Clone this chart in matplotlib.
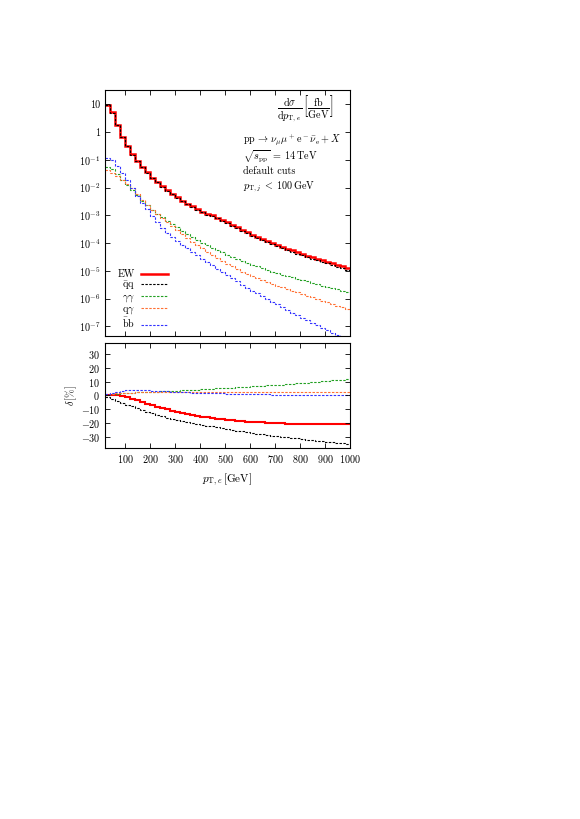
import numpy as np
import matplotlib
matplotlib.use("Agg")
import matplotlib.pyplot as plt
from matplotlib.ticker import FixedLocator, FuncFormatter, MultipleLocator

plt.rcParams['font.family'] = 'serif'
plt.rcParams['font.serif'] = ['cmr10']
plt.rcParams['mathtext.fontset'] = 'cm'
plt.rcParams['axes.formatter.use_mathtext'] = True
plt.rcParams['font.size'] = 7.3
plt.rcParams['axes.unicode_minus'] = True

# 20 GeV bins from 20 to 1000 GeV
edges = np.arange(20, 1001, 20)

# top panel: dsigma/dpT [fb/GeV]
ew = [9.3, 5.1, 1.78, 0.68, 0.32, 0.158, 0.091, 0.055, 0.0355, 0.0229,
      0.0158, 0.0112, 8.1e-3, 6.0e-3, 4.5e-3, 3.4e-3, 2.63e-3, 2.09e-3, 1.66e-3, 1.35e-3,
      1.12e-3, 1.0e-3, 8.3e-4, 6.9e-4, 5.6e-4, 4.6e-4, 3.7e-4, 3.0e-4, 2.5e-4, 2.04e-4,
      1.70e-4, 1.41e-4, 1.20e-4, 1.02e-4, 8.5e-5, 7.4e-5, 6.3e-5, 5.5e-5, 4.7e-5, 4.1e-5,
      3.55e-5, 3.1e-5, 2.75e-5, 2.4e-5, 2.14e-5, 1.86e-5, 1.66e-5, 1.48e-5, 1.32e-5]
qq = [9.3, 5.05, 1.76, 0.67, 0.315, 0.155, 0.089, 0.054, 0.0347, 0.0223,
      0.0153, 0.0108, 7.8e-3, 5.8e-3, 4.3e-3, 3.25e-3, 2.52e-3, 2.0e-3, 1.58e-3, 1.28e-3,
      1.06e-3, 9.4e-4, 7.8e-4, 6.5e-4, 5.25e-4, 4.3e-4, 3.45e-4, 2.8e-4, 2.32e-4, 1.88e-4,
      1.56e-4, 1.29e-4, 1.09e-4, 9.3e-5, 7.7e-5, 6.7e-5, 5.7e-5, 4.95e-5, 4.2e-5, 3.65e-5,
      3.15e-5, 2.74e-5, 2.42e-5, 2.1e-5, 1.86e-5, 1.61e-5, 1.43e-5, 1.27e-5, 1.12e-5]
aa = [0.056, 0.048, 0.030, 0.019, 0.0126, 8.5e-3, 5.2e-3, 3.4e-3, 2.3e-3, 1.58e-3,
      1.12e-3, 8.5e-4, 6.3e-4, 4.9e-4, 3.8e-4, 2.75e-4, 2.09e-4, 1.62e-4, 1.29e-4, 1.02e-4,
      8.3e-5, 6.8e-5, 5.5e-5, 4.6e-5, 3.8e-5, 3.16e-5, 2.7e-5, 2.3e-5, 1.95e-5, 1.66e-5,
      1.45e-5, 1.26e-5, 1.10e-5, 9.5e-6, 8.3e-6, 7.4e-6, 6.6e-6, 5.9e-6, 5.2e-6, 4.7e-6,
      4.2e-6, 3.7e-6, 3.3e-6, 2.95e-6, 2.7e-6, 2.4e-6, 2.2e-6, 1.95e-6, 1.78e-6]
qa = [0.042, 0.034, 0.027, 0.019, 0.0138, 9.5e-3, 6.0e-3, 3.6e-3, 2.4e-3, 1.62e-3,
      1.12e-3, 7.9e-4, 5.75e-4, 4.2e-4, 3.0e-4, 2.2e-4, 1.58e-4, 1.12e-4, 8.5e-5, 6.5e-5,
      4.9e-5, 3.8e-5, 2.95e-5, 2.3e-5, 1.82e-5, 1.45e-5, 1.17e-5, 9.5e-6, 7.9e-6, 6.6e-6,
      5.5e-6, 4.7e-6, 4.0e-6, 3.4e-6, 2.95e-6, 2.57e-6, 2.24e-6, 1.95e-6, 1.7e-6, 1.48e-6,
      1.29e-6, 1.12e-6, 9.8e-7, 8.5e-7, 7.4e-7, 6.5e-7, 5.6e-7, 4.9e-7, 4.3e-7]
bb = [0.112, 0.100, 0.060, 0.033, 0.019, 0.010, 4.8e-3, 2.8e-3, 1.66e-3, 9.5e-4,
      5.6e-4, 3.55e-4, 2.35e-4, 1.62e-4, 1.17e-4, 8.7e-5, 6.5e-5, 4.8e-5, 3.6e-5, 2.75e-5,
      2.1e-5, 1.58e-5, 1.2e-5, 9.1e-6, 6.9e-6, 5.4e-6, 4.2e-6, 3.2e-6, 2.5e-6, 1.95e-6,
      1.55e-6, 1.23e-6, 9.8e-7, 7.8e-7, 6.2e-7, 4.9e-7, 3.9e-7, 3.1e-7, 2.5e-7, 2.05e-7,
      1.66e-7, 1.35e-7, 1.1e-7, 8.9e-8, 7.2e-8, 5.9e-8, 4.8e-8, 3.9e-8, 3.2e-8]

# bottom panel: relative corrections delta [%]
d_ew = [0.5, 0.3, 0.0, -0.4, -1.2, -2.2, -3.4, -4.6, -5.8, -6.9,
        -8.0, -9.0, -10.0, -10.9, -11.8, -12.6, -13.3, -14.0, -14.6, -15.2,
        -15.7, -16.2, -16.7, -17.1, -17.5, -17.9, -18.2, -18.5, -18.8, -19.0,
        -19.2, -19.4, -19.6, -19.8, -20.0, -20.1, -20.2, -20.3, -20.4, -20.5,
        -20.5, -20.6, -20.6, -20.6, -20.6, -20.5, -20.5, -20.4, -20.4]
d_qq = [-0.8, -2.3, -3.8, -5.2, -6.6, -7.9, -9.2, -10.5, -11.7, -12.8,
        -13.9, -14.9, -15.9, -16.8, -17.6, -18.4, -19.1, -19.8, -20.5, -21.1,
        -21.7, -22.3, -22.9, -23.5, -24.1, -24.7, -25.3, -25.9, -26.4, -27.0,
        -27.5, -28.0, -28.5, -28.9, -29.3, -29.7, -30.1, -30.5, -30.9, -31.3,
        -31.7, -32.1, -32.4, -32.8, -33.2, -33.6, -34.0, -34.4, -34.8]
d_aa = [0.3, 0.8, 1.2, 1.5, 1.8, 2.0, 2.2, 2.3, 2.5, 2.6,
        2.8, 2.9, 3.1, 3.3, 3.5, 3.7, 3.9, 4.1, 4.3, 4.5,
        4.7, 4.9, 5.1, 5.3, 5.5, 5.7, 5.9, 6.1, 6.4, 6.6,
        6.8, 7.0, 7.2, 7.5, 7.7, 7.9, 8.2, 8.4, 8.7, 8.9,
        9.2, 9.5, 9.8, 10.1, 10.4, 10.8, 11.1, 11.5, 11.9]
d_qa = [0.6, 1.1, 1.5, 1.8, 2.0, 2.1, 2.2, 2.2, 2.3, 2.3,
        2.3, 2.3, 2.4, 2.4, 2.4, 2.4, 2.4, 2.4, 2.5, 2.5,
        2.5, 2.5, 2.5, 2.5, 2.5, 2.5, 2.6, 2.6, 2.6, 2.6,
        2.6, 2.6, 2.6, 2.6, 2.6, 2.6, 2.6, 2.6, 2.7, 2.7,
        2.7, 2.7, 2.7, 2.7, 2.7, 2.7, 2.7, 2.7, 2.7]
d_bb = [1.0, 2.0, 2.8, 3.4, 3.8, 4.0, 4.0, 3.9, 3.7, 3.5,
        3.3, 3.1, 2.9, 2.7, 2.5, 2.4, 2.2, 2.1, 2.0, 1.9,
        1.8, 1.7, 1.6, 1.5, 1.4, 1.3, 1.2, 1.1, 1.05, 1.0,
        0.9, 0.85, 0.8, 0.7, 0.65, 0.6, 0.55, 0.5, 0.45, 0.4,
        0.35, 0.3, 0.25, 0.2, 0.15, 0.1, 0.05, 0.0, 0.0]

labels = ['EW', r'$\bar{\mathrm{q}}\mathrm{q}$', r'$\gamma\gamma$',
          r'$\mathrm{q}\gamma$', r'$\bar{\mathrm{b}}\mathrm{b}$']
colors = ['red', 'black', '#22a022', '#ff7033', '#3333ff']
top_vals = [ew, qq, aa, qa, bb]
bot_vals = [d_ew, d_qq, d_aa, d_qa, d_bb]

fig = plt.figure(figsize=(5.8, 8.19), dpi=100)
ax1 = fig.add_axes([0.181, 0.590, 0.4224, 0.2996])
ax2 = fig.add_axes([0.181, 0.4526, 0.4224, 0.129])

dash = (2.2, 1.3)
for i in [0, 2, 3, 4, 1]:
    if i == 0:
        ax1.stairs(top_vals[i], edges, color=colors[i], lw=1.8, label=labels[i], baseline=None)
        ax2.stairs(bot_vals[i], edges, color=colors[i], lw=1.5, baseline=None)
    else:
        ax1.stairs(top_vals[i], edges, color=colors[i], lw=0.8, ls=(0, dash), label=labels[i], baseline=None)
        ax2.stairs(bot_vals[i], edges, color=colors[i], lw=0.8, ls=(0, dash), baseline=None)

ax1.set_yscale('log')
ax1.set_xlim(20, 1000)
ax1.set_ylim(4.6e-8, 31.6)
ax1.yaxis.set_major_locator(FixedLocator([10, 1, 0.1, 1e-2, 1e-3, 1e-4, 1e-5, 1e-6, 1e-7]))
ax1.yaxis.set_minor_locator(FixedLocator([]))

def logfmt(v, pos):
    e = int(round(np.log10(v)))
    if e == 1:
        return '10'
    if e == 0:
        return '1'
    return r'$10^{%d}$' % e
ax1.yaxis.set_major_formatter(FuncFormatter(logfmt))
ax1.xaxis.set_major_locator(MultipleLocator(100))
ax1.set_xticklabels([])

ax2.set_xlim(20, 1000)
ax2.set_ylim(-38, 38)
ax2.yaxis.set_major_locator(FixedLocator([-30, -20, -10, 0, 10, 20, 30]))
ax2.set_xticks(np.arange(100, 1001, 100))

for ax in (ax1, ax2):
    ax.tick_params(which='both', direction='in', top=True, right=True, length=3.5, width=0.6)
    for s in ax.spines.values():
        s.set_linewidth(0.8)

ax2.set_ylabel(r'$\delta\,[\%]$', labelpad=1)
ax2.set_xlabel(r'$p_{\mathrm{T},e}\,[\mathrm{GeV}]$', labelpad=5, fontsize=8)

ax1.text(0.931, 0.924, r'$\dfrac{\mathrm{d}\sigma}{\mathrm{d}p_{\mathrm{T},e}}\;\left[\dfrac{\mathrm{fb}}{\mathrm{GeV}}\right]$',
         transform=ax1.transAxes, ha='right', va='center')
ax1.text(0.563, 0.796, r'$\mathrm{pp}\,\rightarrow\,\nu_\mu\mu^+\mathrm{e}^-\bar{\nu}_\mathrm{e}+X$',
         transform=ax1.transAxes, ha='left', va='center')
ax1.text(0.563, 0.730, r'$\sqrt{s_\mathrm{pp}}\;=\;14\,\mathrm{TeV}$',
         transform=ax1.transAxes, ha='left', va='center')
ax1.text(0.563, 0.671, 'default cuts', transform=ax1.transAxes, ha='left', va='center')
ax1.text(0.563, 0.607, r'$p_{\mathrm{T},j}\;<\;100\,\mathrm{GeV}$',
         transform=ax1.transAxes, ha='left', va='center')

h, l = ax1.get_legend_handles_labels()
order = [l.index(x) for x in labels]
ax1.legend([h[k] for k in order], [l[k] for k in order], loc='upper right',
           bbox_to_anchor=(0.257, 0.27), markerfirst=False, frameon=False,
           borderpad=0, borderaxespad=0, handlelength=2.7, handletextpad=0.6,
           labelspacing=0.0)

fig.savefig('out.png', dpi=100)
